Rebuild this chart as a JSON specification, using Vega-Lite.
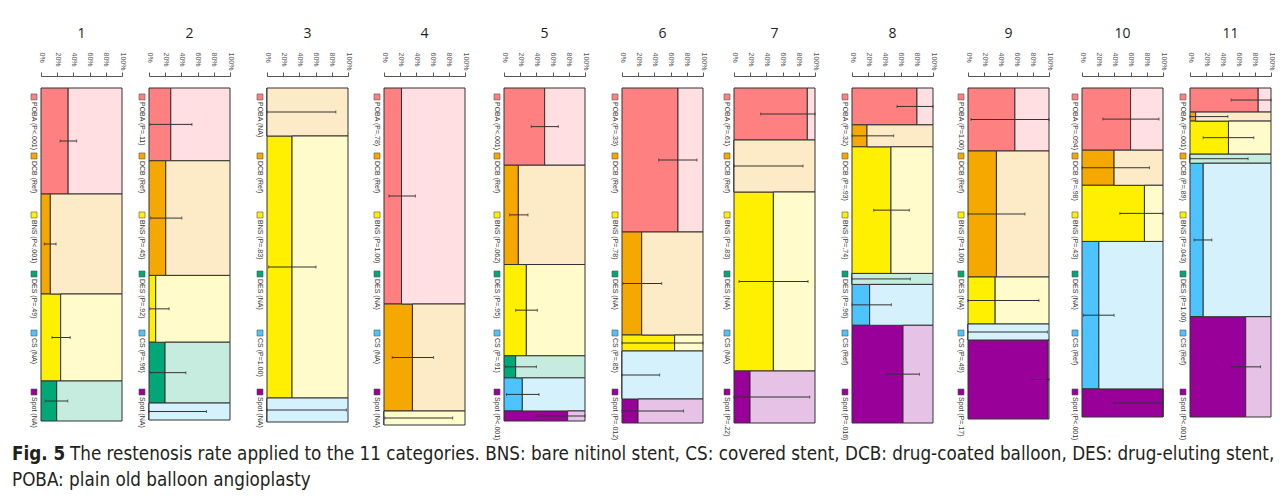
{
  "$schema": "https://vega.github.io/schema/vega-lite/v6.json",
  "padding": {"left": 12, "top": 27, "right": 0, "bottom": 0},
  "background": "white",
  "config": {
    "view": {"stroke": null},
    "title": {"fontSize": 14, "fontWeight": "normal", "font": "Open Sans", "color": "#231f20", "offset": 11},
    "rect": {"stroke": "#333", "strokeWidth": 1},
    "rule": {"stroke": "#333", "strokeWidth": 1},
    "tick": {"color": "#333", "size": 3, "thickness": 1},
    "axisX": {"offset": 12, "labelAngle": 90, "labelAlign": "left", "labelBaseline": "middle", "labelPadding": 20, "labelFontSize": 7, "labelFont": "Liberation Sans", "labelColor": "#555", "tickSize": 4, "tickColor": "#555", "domainColor": "#555", "grid": false, "labelOverlap": false, "labelFlush": false, "labelBound": false, "tickCount": 6}
  },
  "datasets": {
    "bands": [
      {"panel": 1, "trt": "POBA", "ord": 1, "n": 106, "rate": 0.335, "lo": 0.236, "hi": 0.44},
      {"panel": 1, "trt": "DCB", "ord": 2, "n": 100, "rate": 0.115, "lo": 0.04, "hi": 0.186},
      {"panel": 1, "trt": "BNS", "ord": 3, "n": 87, "rate": 0.243, "lo": 0.136, "hi": 0.36},
      {"panel": 1, "trt": "DES", "ord": 4, "n": 40, "rate": 0.194, "lo": 0.053, "hi": 0.33},
      {"panel": 2, "trt": "POBA", "ord": 1, "n": 73, "rate": 0.269, "lo": 0.01, "hi": 0.53},
      {"panel": 2, "trt": "DCB", "ord": 2, "n": 115, "rate": 0.207, "lo": 0.02, "hi": 0.405},
      {"panel": 2, "trt": "BNS", "ord": 3, "n": 67, "rate": 0.083, "lo": 0.01, "hi": 0.248},
      {"panel": 2, "trt": "DES", "ord": 4, "n": 61, "rate": 0.198, "lo": 0.01, "hi": 0.455},
      {"panel": 2, "trt": "CS", "ord": 5, "n": 17, "rate": 0, "lo": 0, "hi": 0.71},
      {"panel": 3, "trt": "DCB", "ord": 2, "n": 48, "rate": 0, "lo": 0, "hi": 0.85},
      {"panel": 3, "trt": "BNS", "ord": 3, "n": 262, "rate": 0.309, "lo": 0.02, "hi": 0.605},
      {"panel": 3, "trt": "CS", "ord": 5, "n": 24, "rate": 0, "lo": 0, "hi": 0.98},
      {"panel": 4, "trt": "POBA", "ord": 1, "n": 216, "rate": 0.216, "lo": 0.061, "hi": 0.388},
      {"panel": 4, "trt": "DCB", "ord": 2, "n": 107, "rate": 0.351, "lo": 0.102, "hi": 0.612},
      {"panel": 4, "trt": "BNS", "ord": 3, "n": 14, "rate": 0, "lo": 0.01, "hi": 0.848},
      {"panel": 5, "trt": "POBA", "ord": 1, "n": 77, "rate": 0.502, "lo": 0.337, "hi": 0.67},
      {"panel": 5, "trt": "DCB", "ord": 2, "n": 99, "rate": 0.177, "lo": 0.07, "hi": 0.296},
      {"panel": 5, "trt": "BNS", "ord": 3, "n": 91, "rate": 0.276, "lo": 0.144, "hi": 0.412},
      {"panel": 5, "trt": "DES", "ord": 4, "n": 22, "rate": 0.144, "lo": 0.02, "hi": 0.4},
      {"panel": 5, "trt": "CS", "ord": 5, "n": 33, "rate": 0.226, "lo": 0.03, "hi": 0.432},
      {"panel": 5, "trt": "Spot", "ord": 6, "n": 10, "rate": 0.786, "lo": 0.42, "hi": 1},
      {"panel": 6, "trt": "POBA", "ord": 1, "n": 144, "rate": 0.691, "lo": 0.453, "hi": 0.926},
      {"panel": 6, "trt": "DCB", "ord": 2, "n": 103, "rate": 0.243, "lo": 0.01, "hi": 0.49},
      {"panel": 6, "trt": "BNS", "ord": 3, "n": 16, "rate": 0.65, "lo": 0, "hi": 1},
      {"panel": 6, "trt": "CS", "ord": 5, "n": 48, "rate": 0, "lo": 0, "hi": 0.465},
      {"panel": 6, "trt": "Spot", "ord": 6, "n": 24, "rate": 0.198, "lo": 0, "hi": 0.76},
      {"panel": 7, "trt": "POBA", "ord": 1, "n": 52, "rate": 0.905, "lo": 0.33, "hi": 1},
      {"panel": 7, "trt": "DCB", "ord": 2, "n": 52, "rate": 0, "lo": 0, "hi": 0.852},
      {"panel": 7, "trt": "BNS", "ord": 3, "n": 179, "rate": 0.486, "lo": 0.062, "hi": 0.914},
      {"panel": 7, "trt": "Spot", "ord": 6, "n": 52, "rate": 0.198, "lo": 0, "hi": 0.935},
      {"panel": 8, "trt": "POBA", "ord": 1, "n": 37, "rate": 0.802, "lo": 0.556, "hi": 1},
      {"panel": 8, "trt": "DCB", "ord": 2, "n": 22, "rate": 0.185, "lo": 0, "hi": 0.515},
      {"panel": 8, "trt": "BNS", "ord": 3, "n": 127, "rate": 0.481, "lo": 0.268, "hi": 0.708},
      {"panel": 8, "trt": "DES", "ord": 4, "n": 11, "rate": 0, "lo": 0, "hi": 0.72},
      {"panel": 8, "trt": "CS", "ord": 5, "n": 41, "rate": 0.218, "lo": 0, "hi": 0.486},
      {"panel": 8, "trt": "Spot", "ord": 6, "n": 98, "rate": 0.63, "lo": 0.424, "hi": 0.832},
      {"panel": 9, "trt": "POBA", "ord": 1, "n": 63, "rate": 0.579, "lo": 0.037, "hi": 1},
      {"panel": 9, "trt": "DCB", "ord": 2, "n": 126, "rate": 0.351, "lo": 0, "hi": 0.703},
      {"panel": 9, "trt": "BNS", "ord": 3, "n": 47, "rate": 0.335, "lo": 0, "hi": 0.876},
      {"panel": 9, "trt": "CS", "ord": 5, "n": 16, "rate": 0, "lo": 0, "hi": 0.98},
      {"panel": 9, "trt": "Spot", "ord": 6, "n": 79, "rate": 0.988, "lo": 0.79, "hi": 1},
      {"panel": 10, "trt": "POBA", "ord": 1, "n": 62, "rate": 0.6, "lo": 0.258, "hi": 0.95},
      {"panel": 10, "trt": "DCB", "ord": 2, "n": 35, "rate": 0.396, "lo": 0, "hi": 0.833},
      {"panel": 10, "trt": "BNS", "ord": 3, "n": 56, "rate": 0.771, "lo": 0.467, "hi": 1},
      {"panel": 10, "trt": "CS", "ord": 5, "n": 147, "rate": 0.208, "lo": 0.02, "hi": 0.396},
      {"panel": 10, "trt": "Spot", "ord": 6, "n": 28, "rate": 1, "lo": 0.392, "hi": 1},
      {"panel": 11, "trt": "POBA", "ord": 1, "n": 24, "rate": 0.842, "lo": 0.508, "hi": 1},
      {"panel": 11, "trt": "DCB", "ord": 2, "n": 9, "rate": 0.07, "lo": 0, "hi": 0.467},
      {"panel": 11, "trt": "BNS", "ord": 3, "n": 33, "rate": 0.475, "lo": 0.163, "hi": 0.788},
      {"panel": 11, "trt": "DES", "ord": 4, "n": 9, "rate": 0, "lo": 0, "hi": 0.717},
      {"panel": 11, "trt": "CS", "ord": 5, "n": 153, "rate": 0.163, "lo": 0.05, "hi": 0.27},
      {"panel": 11, "trt": "Spot", "ord": 6, "n": 100, "rate": 0.688, "lo": 0.517, "hi": 0.871}
    ],
    "leg": [
      {"panel": 1, "trt": "POBA", "ord": 1, "label": "POBA (P<.001)"},
      {"panel": 1, "trt": "DCB", "ord": 2, "label": "DCB (Ref)"},
      {"panel": 1, "trt": "BNS", "ord": 3, "label": "BNS (P<.001)"},
      {"panel": 1, "trt": "DES", "ord": 4, "label": "DES (P=.49)"},
      {"panel": 1, "trt": "CS", "ord": 5, "label": "CS (NA)"},
      {"panel": 1, "trt": "Spot", "ord": 6, "label": "Spot (NA)"},
      {"panel": 2, "trt": "POBA", "ord": 1, "label": "POBA (P=.11)"},
      {"panel": 2, "trt": "DCB", "ord": 2, "label": "DCB (Ref)"},
      {"panel": 2, "trt": "BNS", "ord": 3, "label": "BNS (P=.45)"},
      {"panel": 2, "trt": "DES", "ord": 4, "label": "DES (P=.92)"},
      {"panel": 2, "trt": "CS", "ord": 5, "label": "CS (P=.96)"},
      {"panel": 2, "trt": "Spot", "ord": 6, "label": "Spot (NA)"},
      {"panel": 3, "trt": "POBA", "ord": 1, "label": "POBA (NA)"},
      {"panel": 3, "trt": "DCB", "ord": 2, "label": "DCB (Ref)"},
      {"panel": 3, "trt": "BNS", "ord": 3, "label": "BNS (P=.83)"},
      {"panel": 3, "trt": "DES", "ord": 4, "label": "DES (NA)"},
      {"panel": 3, "trt": "CS", "ord": 5, "label": "CS (P=1.00)"},
      {"panel": 3, "trt": "Spot", "ord": 6, "label": "Spot (NA)"},
      {"panel": 4, "trt": "POBA", "ord": 1, "label": "POBA (P=.78)"},
      {"panel": 4, "trt": "DCB", "ord": 2, "label": "DCB (Ref)"},
      {"panel": 4, "trt": "BNS", "ord": 3, "label": "BNS (P=1.00)"},
      {"panel": 4, "trt": "DES", "ord": 4, "label": "DES (NA)"},
      {"panel": 4, "trt": "CS", "ord": 5, "label": "CS (NA)"},
      {"panel": 4, "trt": "Spot", "ord": 6, "label": "Spot (NA)"},
      {"panel": 5, "trt": "POBA", "ord": 1, "label": "POBA (P<.001)"},
      {"panel": 5, "trt": "DCB", "ord": 2, "label": "DCB (Ref)"},
      {"panel": 5, "trt": "BNS", "ord": 3, "label": "BNS (P=.062)"},
      {"panel": 5, "trt": "DES", "ord": 4, "label": "DES (P=.95)"},
      {"panel": 5, "trt": "CS", "ord": 5, "label": "CS (P=.91)"},
      {"panel": 5, "trt": "Spot", "ord": 6, "label": "Spot (P<.001)"},
      {"panel": 6, "trt": "POBA", "ord": 1, "label": "POBA (P=.33)"},
      {"panel": 6, "trt": "DCB", "ord": 2, "label": "DCB (Ref)"},
      {"panel": 6, "trt": "BNS", "ord": 3, "label": "BNS (P=.78)"},
      {"panel": 6, "trt": "DES", "ord": 4, "label": "DES (NA)"},
      {"panel": 6, "trt": "CS", "ord": 5, "label": "CS (P=.85)"},
      {"panel": 6, "trt": "Spot", "ord": 6, "label": "Spot (P=.012)"},
      {"panel": 7, "trt": "POBA", "ord": 1, "label": "POBA (P=.61)"},
      {"panel": 7, "trt": "DCB", "ord": 2, "label": "DCB (Ref)"},
      {"panel": 7, "trt": "BNS", "ord": 3, "label": "BNS (P=.83)"},
      {"panel": 7, "trt": "DES", "ord": 4, "label": "DES (NA)"},
      {"panel": 7, "trt": "CS", "ord": 5, "label": "CS (NA)"},
      {"panel": 7, "trt": "Spot", "ord": 6, "label": "Spot (P=.22)"},
      {"panel": 8, "trt": "POBA", "ord": 1, "label": "POBA (P=.32)"},
      {"panel": 8, "trt": "DCB", "ord": 2, "label": "DCB (P=.93)"},
      {"panel": 8, "trt": "BNS", "ord": 3, "label": "BNS (P=.74)"},
      {"panel": 8, "trt": "DES", "ord": 4, "label": "DES (P=.96)"},
      {"panel": 8, "trt": "CS", "ord": 5, "label": "CS (Ref)"},
      {"panel": 8, "trt": "Spot", "ord": 6, "label": "Spot (P=.016)"},
      {"panel": 9, "trt": "POBA", "ord": 1, "label": "POBA (P=1.00)"},
      {"panel": 9, "trt": "DCB", "ord": 2, "label": "DCB (Ref)"},
      {"panel": 9, "trt": "BNS", "ord": 3, "label": "BNS (P=1.00)"},
      {"panel": 9, "trt": "DES", "ord": 4, "label": "DES (NA)"},
      {"panel": 9, "trt": "CS", "ord": 5, "label": "CS (P=.49)"},
      {"panel": 9, "trt": "Spot", "ord": 6, "label": "Spot (P=.17)"},
      {"panel": 10, "trt": "POBA", "ord": 1, "label": "POBA (P=.094)"},
      {"panel": 10, "trt": "DCB", "ord": 2, "label": "DCB (P=.98)"},
      {"panel": 10, "trt": "BNS", "ord": 3, "label": "BNS (P=.43)"},
      {"panel": 10, "trt": "DES", "ord": 4, "label": "DES (NA)"},
      {"panel": 10, "trt": "CS", "ord": 5, "label": "CS (Ref)"},
      {"panel": 10, "trt": "Spot", "ord": 6, "label": "Spot (P<.001)"},
      {"panel": 11, "trt": "POBA", "ord": 1, "label": "POBA (P=.001)"},
      {"panel": 11, "trt": "DCB", "ord": 2, "label": "DCB (P=.89)"},
      {"panel": 11, "trt": "BNS", "ord": 3, "label": "BNS (P=.043)"},
      {"panel": 11, "trt": "DES", "ord": 4, "label": "DES (P=1.00)"},
      {"panel": 11, "trt": "CS", "ord": 5, "label": "CS (Ref)"},
      {"panel": 11, "trt": "Spot", "ord": 6, "label": "Spot (P<.001)"}
    ],
    "cap": [
      {"line": 1, "part": "head", "txt": "Fig. 5"},
      {"line": 1, "part": "body1", "txt": "The restenosis rate applied to the 11 categories. BNS: bare nitinol stent, CS: covered stent, DCB: drug-coated balloon, DES: drug-eluting stent,"},
      {"line": 2, "part": "body2", "txt": "POBA: plain old balloon angioplasty"}
    ]
  },
  "vconcat": [
    {
      "bounds": "flush",
      "spacing": 7,
      "hconcat": [
        {"width": 22, "height": 334, "data": {"name": "leg"}, "transform": [{"filter": "datum.panel == 1"}],
         "encoding": {"x": {"value": "width"}, "y": {"field": "ord", "type": "ordinal", "scale": {"type": "point", "padding": 0.33, "align": 0.23}, "axis": null}},
         "layer": [
          {"mark": {"type": "point", "shape": "square", "filled": true, "size": 36, "stroke": "#555", "strokeWidth": 0.6, "opacity": 1}, "encoding": {"fill": {"field": "trt", "type": "nominal", "scale": {"domain": ["POBA", "DCB", "BNS", "DES", "CS", "Spot"], "range": ["#ff8080", "#f5a800", "#ffef00", "#00a878", "#4dc3ff", "#990099"]}, "legend": null}}},
          {"mark": {"type": "text", "angle": 90, "align": "left", "baseline": "middle", "dx": 5, "fontSize": 7, "font": "Liberation Sans", "fill": "#333"}, "encoding": {"text": {"field": "label", "type": "nominal"}}}
         ]},
        {"width": 81, "height": 333, "title": "1", "data": {"name": "bands"},
         "transform": [{"filter": "datum.panel == 1"}, {"stack": "n", "groupby": [], "sort": [{"field": "ord", "order": "ascending"}], "as": ["y0", "y1"], "offset": "normalize"}],
         "layer": [
          {"mark": "rect", "encoding": {"x": {"field": "rate", "type": "quantitative", "scale": {"domain": [0, 1], "nice": false, "zero": false}, "axis": {"orient": "top", "values": [0, 0.2, 0.4, 0.6, 0.8, 1], "tickCount": 6, "format": ".0%", "title": null, "labelOverlap": false}}, "x2": {"value": 0}, "y": {"field": "y0", "type": "quantitative", "scale": {"domain": [0, 1], "reverse": true, "nice": false, "zero": false}, "axis": null}, "y2": {"field": "y1"}, "fill": {"field": "trt", "type": "nominal", "scale": {"domain": ["POBA", "DCB", "BNS", "DES", "CS", "Spot"], "range": ["#ff8080", "#f5a800", "#ffef00", "#00a878", "#4dc3ff", "#990099"]}, "legend": null}}},
          {"mark": "rect", "encoding": {"x": {"field": "rate", "type": "quantitative"}, "x2": {"value": "width"}, "y": {"field": "y0", "type": "quantitative"}, "y2": {"field": "y1"}, "color": {"field": "trt", "type": "nominal", "scale": {"domain": ["POBA", "DCB", "BNS", "DES", "CS", "Spot"], "range": ["#ffdfe2", "#fdebc8", "#fffbcb", "#c6ece0", "#d5f1fc", "#e6c3e6"]}, "legend": null}}},
          {"transform": [{"fold": ["y0", "y1"], "as": ["k", "v"]}, {"aggregate": [{"op": "mean", "field": "v", "as": "mid"}], "groupby": ["trt", "lo", "hi"]}], "mark": "rule", "encoding": {"x": {"field": "lo", "type": "quantitative"}, "x2": {"field": "hi"}, "y": {"field": "mid", "type": "quantitative"}}},
          {"transform": [{"fold": ["y0", "y1"], "as": ["k", "v"]}, {"aggregate": [{"op": "mean", "field": "v", "as": "mid"}], "groupby": ["trt", "lo", "hi"]}, {"fold": ["lo", "hi"], "as": ["e", "ev"]}], "mark": {"type": "tick", "orient": "vertical"}, "encoding": {"x": {"field": "ev", "type": "quantitative"}, "y": {"field": "mid", "type": "quantitative"}}}
         ]},
        {"width": 13, "height": 334, "data": {"name": "leg"}, "transform": [{"filter": "datum.panel == 2"}],
         "encoding": {"x": {"value": "width"}, "y": {"field": "ord", "type": "ordinal", "scale": {"type": "point", "padding": 0.33, "align": 0.23}, "axis": null}},
         "layer": [
          {"mark": {"type": "point", "shape": "square", "filled": true, "size": 36, "stroke": "#555", "strokeWidth": 0.6, "opacity": 1}, "encoding": {"fill": {"field": "trt", "type": "nominal", "scale": {"domain": ["POBA", "DCB", "BNS", "DES", "CS", "Spot"], "range": ["#ff8080", "#f5a800", "#ffef00", "#00a878", "#4dc3ff", "#990099"]}, "legend": null}}},
          {"mark": {"type": "text", "angle": 90, "align": "left", "baseline": "middle", "dx": 5, "fontSize": 7, "font": "Liberation Sans", "fill": "#333"}, "encoding": {"text": {"field": "label", "type": "nominal"}}}
         ]},
        {"width": 81, "height": 332, "title": "2", "data": {"name": "bands"},
         "transform": [{"filter": "datum.panel == 2"}, {"stack": "n", "groupby": [], "sort": [{"field": "ord", "order": "ascending"}], "as": ["y0", "y1"], "offset": "normalize"}],
         "layer": [
          {"mark": "rect", "encoding": {"x": {"field": "rate", "type": "quantitative", "scale": {"domain": [0, 1], "nice": false, "zero": false}, "axis": {"orient": "top", "values": [0, 0.2, 0.4, 0.6, 0.8, 1], "tickCount": 6, "format": ".0%", "title": null, "labelOverlap": false}}, "x2": {"value": 0}, "y": {"field": "y0", "type": "quantitative", "scale": {"domain": [0, 1], "reverse": true, "nice": false, "zero": false}, "axis": null}, "y2": {"field": "y1"}, "fill": {"field": "trt", "type": "nominal", "scale": {"domain": ["POBA", "DCB", "BNS", "DES", "CS", "Spot"], "range": ["#ff8080", "#f5a800", "#ffef00", "#00a878", "#4dc3ff", "#990099"]}, "legend": null}}},
          {"mark": "rect", "encoding": {"x": {"field": "rate", "type": "quantitative"}, "x2": {"value": "width"}, "y": {"field": "y0", "type": "quantitative"}, "y2": {"field": "y1"}, "color": {"field": "trt", "type": "nominal", "scale": {"domain": ["POBA", "DCB", "BNS", "DES", "CS", "Spot"], "range": ["#ffdfe2", "#fdebc8", "#fffbcb", "#c6ece0", "#d5f1fc", "#e6c3e6"]}, "legend": null}}},
          {"transform": [{"fold": ["y0", "y1"], "as": ["k", "v"]}, {"aggregate": [{"op": "mean", "field": "v", "as": "mid"}], "groupby": ["trt", "lo", "hi"]}], "mark": "rule", "encoding": {"x": {"field": "lo", "type": "quantitative"}, "x2": {"field": "hi"}, "y": {"field": "mid", "type": "quantitative"}}},
          {"transform": [{"fold": ["y0", "y1"], "as": ["k", "v"]}, {"aggregate": [{"op": "mean", "field": "v", "as": "mid"}], "groupby": ["trt", "lo", "hi"]}, {"fold": ["lo", "hi"], "as": ["e", "ev"]}], "mark": {"type": "tick", "orient": "vertical"}, "encoding": {"x": {"field": "ev", "type": "quantitative"}, "y": {"field": "mid", "type": "quantitative"}}}
         ]},
        {"width": 23, "height": 334, "data": {"name": "leg"}, "transform": [{"filter": "datum.panel == 3"}],
         "encoding": {"x": {"value": "width"}, "y": {"field": "ord", "type": "ordinal", "scale": {"type": "point", "padding": 0.33, "align": 0.23}, "axis": null}},
         "layer": [
          {"mark": {"type": "point", "shape": "square", "filled": true, "size": 36, "stroke": "#555", "strokeWidth": 0.6, "opacity": 1}, "encoding": {"fill": {"field": "trt", "type": "nominal", "scale": {"domain": ["POBA", "DCB", "BNS", "DES", "CS", "Spot"], "range": ["#ff8080", "#f5a800", "#ffef00", "#00a878", "#4dc3ff", "#990099"]}, "legend": null}}},
          {"mark": {"type": "text", "angle": 90, "align": "left", "baseline": "middle", "dx": 5, "fontSize": 7, "font": "Liberation Sans", "fill": "#333"}, "encoding": {"text": {"field": "label", "type": "nominal"}}}
         ]},
        {"width": 81, "height": 334, "title": "3", "data": {"name": "bands"},
         "transform": [{"filter": "datum.panel == 3"}, {"stack": "n", "groupby": [], "sort": [{"field": "ord", "order": "ascending"}], "as": ["y0", "y1"], "offset": "normalize"}],
         "layer": [
          {"mark": "rect", "encoding": {"x": {"field": "rate", "type": "quantitative", "scale": {"domain": [0, 1], "nice": false, "zero": false}, "axis": {"orient": "top", "values": [0, 0.2, 0.4, 0.6, 0.8, 1], "tickCount": 6, "format": ".0%", "title": null, "labelOverlap": false}}, "x2": {"value": 0}, "y": {"field": "y0", "type": "quantitative", "scale": {"domain": [0, 1], "reverse": true, "nice": false, "zero": false}, "axis": null}, "y2": {"field": "y1"}, "fill": {"field": "trt", "type": "nominal", "scale": {"domain": ["POBA", "DCB", "BNS", "DES", "CS", "Spot"], "range": ["#ff8080", "#f5a800", "#ffef00", "#00a878", "#4dc3ff", "#990099"]}, "legend": null}}},
          {"mark": "rect", "encoding": {"x": {"field": "rate", "type": "quantitative"}, "x2": {"value": "width"}, "y": {"field": "y0", "type": "quantitative"}, "y2": {"field": "y1"}, "color": {"field": "trt", "type": "nominal", "scale": {"domain": ["POBA", "DCB", "BNS", "DES", "CS", "Spot"], "range": ["#ffdfe2", "#fdebc8", "#fffbcb", "#c6ece0", "#d5f1fc", "#e6c3e6"]}, "legend": null}}},
          {"transform": [{"fold": ["y0", "y1"], "as": ["k", "v"]}, {"aggregate": [{"op": "mean", "field": "v", "as": "mid"}], "groupby": ["trt", "lo", "hi"]}], "mark": "rule", "encoding": {"x": {"field": "lo", "type": "quantitative"}, "x2": {"field": "hi"}, "y": {"field": "mid", "type": "quantitative"}}},
          {"transform": [{"fold": ["y0", "y1"], "as": ["k", "v"]}, {"aggregate": [{"op": "mean", "field": "v", "as": "mid"}], "groupby": ["trt", "lo", "hi"]}, {"fold": ["lo", "hi"], "as": ["e", "ev"]}], "mark": {"type": "tick", "orient": "vertical"}, "encoding": {"x": {"field": "ev", "type": "quantitative"}, "y": {"field": "mid", "type": "quantitative"}}}
         ]},
        {"width": 22, "height": 334, "data": {"name": "leg"}, "transform": [{"filter": "datum.panel == 4"}],
         "encoding": {"x": {"value": "width"}, "y": {"field": "ord", "type": "ordinal", "scale": {"type": "point", "padding": 0.33, "align": 0.23}, "axis": null}},
         "layer": [
          {"mark": {"type": "point", "shape": "square", "filled": true, "size": 36, "stroke": "#555", "strokeWidth": 0.6, "opacity": 1}, "encoding": {"fill": {"field": "trt", "type": "nominal", "scale": {"domain": ["POBA", "DCB", "BNS", "DES", "CS", "Spot"], "range": ["#ff8080", "#f5a800", "#ffef00", "#00a878", "#4dc3ff", "#990099"]}, "legend": null}}},
          {"mark": {"type": "text", "angle": 90, "align": "left", "baseline": "middle", "dx": 5, "fontSize": 7, "font": "Liberation Sans", "fill": "#333"}, "encoding": {"text": {"field": "label", "type": "nominal"}}}
         ]},
        {"width": 81, "height": 337, "title": "4", "data": {"name": "bands"},
         "transform": [{"filter": "datum.panel == 4"}, {"stack": "n", "groupby": [], "sort": [{"field": "ord", "order": "ascending"}], "as": ["y0", "y1"], "offset": "normalize"}],
         "layer": [
          {"mark": "rect", "encoding": {"x": {"field": "rate", "type": "quantitative", "scale": {"domain": [0, 1], "nice": false, "zero": false}, "axis": {"orient": "top", "values": [0, 0.2, 0.4, 0.6, 0.8, 1], "tickCount": 6, "format": ".0%", "title": null, "labelOverlap": false}}, "x2": {"value": 0}, "y": {"field": "y0", "type": "quantitative", "scale": {"domain": [0, 1], "reverse": true, "nice": false, "zero": false}, "axis": null}, "y2": {"field": "y1"}, "fill": {"field": "trt", "type": "nominal", "scale": {"domain": ["POBA", "DCB", "BNS", "DES", "CS", "Spot"], "range": ["#ff8080", "#f5a800", "#ffef00", "#00a878", "#4dc3ff", "#990099"]}, "legend": null}}},
          {"mark": "rect", "encoding": {"x": {"field": "rate", "type": "quantitative"}, "x2": {"value": "width"}, "y": {"field": "y0", "type": "quantitative"}, "y2": {"field": "y1"}, "color": {"field": "trt", "type": "nominal", "scale": {"domain": ["POBA", "DCB", "BNS", "DES", "CS", "Spot"], "range": ["#ffdfe2", "#fdebc8", "#fffbcb", "#c6ece0", "#d5f1fc", "#e6c3e6"]}, "legend": null}}},
          {"transform": [{"fold": ["y0", "y1"], "as": ["k", "v"]}, {"aggregate": [{"op": "mean", "field": "v", "as": "mid"}], "groupby": ["trt", "lo", "hi"]}], "mark": "rule", "encoding": {"x": {"field": "lo", "type": "quantitative"}, "x2": {"field": "hi"}, "y": {"field": "mid", "type": "quantitative"}}},
          {"transform": [{"fold": ["y0", "y1"], "as": ["k", "v"]}, {"aggregate": [{"op": "mean", "field": "v", "as": "mid"}], "groupby": ["trt", "lo", "hi"]}, {"fold": ["lo", "hi"], "as": ["e", "ev"]}], "mark": {"type": "tick", "orient": "vertical"}, "encoding": {"x": {"field": "ev", "type": "quantitative"}, "y": {"field": "mid", "type": "quantitative"}}}
         ]},
        {"width": 25, "height": 334, "data": {"name": "leg"}, "transform": [{"filter": "datum.panel == 5"}],
         "encoding": {"x": {"value": "width"}, "y": {"field": "ord", "type": "ordinal", "scale": {"type": "point", "padding": 0.33, "align": 0.23}, "axis": null}},
         "layer": [
          {"mark": {"type": "point", "shape": "square", "filled": true, "size": 36, "stroke": "#555", "strokeWidth": 0.6, "opacity": 1}, "encoding": {"fill": {"field": "trt", "type": "nominal", "scale": {"domain": ["POBA", "DCB", "BNS", "DES", "CS", "Spot"], "range": ["#ff8080", "#f5a800", "#ffef00", "#00a878", "#4dc3ff", "#990099"]}, "legend": null}}},
          {"mark": {"type": "text", "angle": 90, "align": "left", "baseline": "middle", "dx": 5, "fontSize": 7, "font": "Liberation Sans", "fill": "#333"}, "encoding": {"text": {"field": "label", "type": "nominal"}}}
         ]},
        {"width": 81, "height": 333, "title": "5", "data": {"name": "bands"},
         "transform": [{"filter": "datum.panel == 5"}, {"stack": "n", "groupby": [], "sort": [{"field": "ord", "order": "ascending"}], "as": ["y0", "y1"], "offset": "normalize"}],
         "layer": [
          {"mark": "rect", "encoding": {"x": {"field": "rate", "type": "quantitative", "scale": {"domain": [0, 1], "nice": false, "zero": false}, "axis": {"orient": "top", "values": [0, 0.2, 0.4, 0.6, 0.8, 1], "tickCount": 6, "format": ".0%", "title": null, "labelOverlap": false}}, "x2": {"value": 0}, "y": {"field": "y0", "type": "quantitative", "scale": {"domain": [0, 1], "reverse": true, "nice": false, "zero": false}, "axis": null}, "y2": {"field": "y1"}, "fill": {"field": "trt", "type": "nominal", "scale": {"domain": ["POBA", "DCB", "BNS", "DES", "CS", "Spot"], "range": ["#ff8080", "#f5a800", "#ffef00", "#00a878", "#4dc3ff", "#990099"]}, "legend": null}}},
          {"mark": "rect", "encoding": {"x": {"field": "rate", "type": "quantitative"}, "x2": {"value": "width"}, "y": {"field": "y0", "type": "quantitative"}, "y2": {"field": "y1"}, "color": {"field": "trt", "type": "nominal", "scale": {"domain": ["POBA", "DCB", "BNS", "DES", "CS", "Spot"], "range": ["#ffdfe2", "#fdebc8", "#fffbcb", "#c6ece0", "#d5f1fc", "#e6c3e6"]}, "legend": null}}},
          {"transform": [{"fold": ["y0", "y1"], "as": ["k", "v"]}, {"aggregate": [{"op": "mean", "field": "v", "as": "mid"}], "groupby": ["trt", "lo", "hi"]}], "mark": "rule", "encoding": {"x": {"field": "lo", "type": "quantitative"}, "x2": {"field": "hi"}, "y": {"field": "mid", "type": "quantitative"}}},
          {"transform": [{"fold": ["y0", "y1"], "as": ["k", "v"]}, {"aggregate": [{"op": "mean", "field": "v", "as": "mid"}], "groupby": ["trt", "lo", "hi"]}, {"fold": ["lo", "hi"], "as": ["e", "ev"]}], "mark": {"type": "tick", "orient": "vertical"}, "encoding": {"x": {"field": "ev", "type": "quantitative"}, "y": {"field": "mid", "type": "quantitative"}}}
         ]},
        {"width": 23, "height": 334, "data": {"name": "leg"}, "transform": [{"filter": "datum.panel == 6"}],
         "encoding": {"x": {"value": "width"}, "y": {"field": "ord", "type": "ordinal", "scale": {"type": "point", "padding": 0.33, "align": 0.23}, "axis": null}},
         "layer": [
          {"mark": {"type": "point", "shape": "square", "filled": true, "size": 36, "stroke": "#555", "strokeWidth": 0.6, "opacity": 1}, "encoding": {"fill": {"field": "trt", "type": "nominal", "scale": {"domain": ["POBA", "DCB", "BNS", "DES", "CS", "Spot"], "range": ["#ff8080", "#f5a800", "#ffef00", "#00a878", "#4dc3ff", "#990099"]}, "legend": null}}},
          {"mark": {"type": "text", "angle": 90, "align": "left", "baseline": "middle", "dx": 5, "fontSize": 7, "font": "Liberation Sans", "fill": "#333"}, "encoding": {"text": {"field": "label", "type": "nominal"}}}
         ]},
        {"width": 81, "height": 335, "title": "6", "data": {"name": "bands"},
         "transform": [{"filter": "datum.panel == 6"}, {"stack": "n", "groupby": [], "sort": [{"field": "ord", "order": "ascending"}], "as": ["y0", "y1"], "offset": "normalize"}],
         "layer": [
          {"mark": "rect", "encoding": {"x": {"field": "rate", "type": "quantitative", "scale": {"domain": [0, 1], "nice": false, "zero": false}, "axis": {"orient": "top", "values": [0, 0.2, 0.4, 0.6, 0.8, 1], "tickCount": 6, "format": ".0%", "title": null, "labelOverlap": false}}, "x2": {"value": 0}, "y": {"field": "y0", "type": "quantitative", "scale": {"domain": [0, 1], "reverse": true, "nice": false, "zero": false}, "axis": null}, "y2": {"field": "y1"}, "fill": {"field": "trt", "type": "nominal", "scale": {"domain": ["POBA", "DCB", "BNS", "DES", "CS", "Spot"], "range": ["#ff8080", "#f5a800", "#ffef00", "#00a878", "#4dc3ff", "#990099"]}, "legend": null}}},
          {"mark": "rect", "encoding": {"x": {"field": "rate", "type": "quantitative"}, "x2": {"value": "width"}, "y": {"field": "y0", "type": "quantitative"}, "y2": {"field": "y1"}, "color": {"field": "trt", "type": "nominal", "scale": {"domain": ["POBA", "DCB", "BNS", "DES", "CS", "Spot"], "range": ["#ffdfe2", "#fdebc8", "#fffbcb", "#c6ece0", "#d5f1fc", "#e6c3e6"]}, "legend": null}}},
          {"transform": [{"fold": ["y0", "y1"], "as": ["k", "v"]}, {"aggregate": [{"op": "mean", "field": "v", "as": "mid"}], "groupby": ["trt", "lo", "hi"]}], "mark": "rule", "encoding": {"x": {"field": "lo", "type": "quantitative"}, "x2": {"field": "hi"}, "y": {"field": "mid", "type": "quantitative"}}},
          {"transform": [{"fold": ["y0", "y1"], "as": ["k", "v"]}, {"aggregate": [{"op": "mean", "field": "v", "as": "mid"}], "groupby": ["trt", "lo", "hi"]}, {"fold": ["lo", "hi"], "as": ["e", "ev"]}], "mark": {"type": "tick", "orient": "vertical"}, "encoding": {"x": {"field": "ev", "type": "quantitative"}, "y": {"field": "mid", "type": "quantitative"}}}
         ]},
        {"width": 17, "height": 334, "data": {"name": "leg"}, "transform": [{"filter": "datum.panel == 7"}],
         "encoding": {"x": {"value": "width"}, "y": {"field": "ord", "type": "ordinal", "scale": {"type": "point", "padding": 0.33, "align": 0.23}, "axis": null}},
         "layer": [
          {"mark": {"type": "point", "shape": "square", "filled": true, "size": 36, "stroke": "#555", "strokeWidth": 0.6, "opacity": 1}, "encoding": {"fill": {"field": "trt", "type": "nominal", "scale": {"domain": ["POBA", "DCB", "BNS", "DES", "CS", "Spot"], "range": ["#ff8080", "#f5a800", "#ffef00", "#00a878", "#4dc3ff", "#990099"]}, "legend": null}}},
          {"mark": {"type": "text", "angle": 90, "align": "left", "baseline": "middle", "dx": 5, "fontSize": 7, "font": "Liberation Sans", "fill": "#333"}, "encoding": {"text": {"field": "label", "type": "nominal"}}}
         ]},
        {"width": 81, "height": 335, "title": "7", "data": {"name": "bands"},
         "transform": [{"filter": "datum.panel == 7"}, {"stack": "n", "groupby": [], "sort": [{"field": "ord", "order": "ascending"}], "as": ["y0", "y1"], "offset": "normalize"}],
         "layer": [
          {"mark": "rect", "encoding": {"x": {"field": "rate", "type": "quantitative", "scale": {"domain": [0, 1], "nice": false, "zero": false}, "axis": {"orient": "top", "values": [0, 0.2, 0.4, 0.6, 0.8, 1], "tickCount": 6, "format": ".0%", "title": null, "labelOverlap": false}}, "x2": {"value": 0}, "y": {"field": "y0", "type": "quantitative", "scale": {"domain": [0, 1], "reverse": true, "nice": false, "zero": false}, "axis": null}, "y2": {"field": "y1"}, "fill": {"field": "trt", "type": "nominal", "scale": {"domain": ["POBA", "DCB", "BNS", "DES", "CS", "Spot"], "range": ["#ff8080", "#f5a800", "#ffef00", "#00a878", "#4dc3ff", "#990099"]}, "legend": null}}},
          {"mark": "rect", "encoding": {"x": {"field": "rate", "type": "quantitative"}, "x2": {"value": "width"}, "y": {"field": "y0", "type": "quantitative"}, "y2": {"field": "y1"}, "color": {"field": "trt", "type": "nominal", "scale": {"domain": ["POBA", "DCB", "BNS", "DES", "CS", "Spot"], "range": ["#ffdfe2", "#fdebc8", "#fffbcb", "#c6ece0", "#d5f1fc", "#e6c3e6"]}, "legend": null}}},
          {"transform": [{"fold": ["y0", "y1"], "as": ["k", "v"]}, {"aggregate": [{"op": "mean", "field": "v", "as": "mid"}], "groupby": ["trt", "lo", "hi"]}], "mark": "rule", "encoding": {"x": {"field": "lo", "type": "quantitative"}, "x2": {"field": "hi"}, "y": {"field": "mid", "type": "quantitative"}}},
          {"transform": [{"fold": ["y0", "y1"], "as": ["k", "v"]}, {"aggregate": [{"op": "mean", "field": "v", "as": "mid"}], "groupby": ["trt", "lo", "hi"]}, {"fold": ["lo", "hi"], "as": ["e", "ev"]}], "mark": {"type": "tick", "orient": "vertical"}, "encoding": {"x": {"field": "ev", "type": "quantitative"}, "y": {"field": "mid", "type": "quantitative"}}}
         ]},
        {"width": 23, "height": 334, "data": {"name": "leg"}, "transform": [{"filter": "datum.panel == 8"}],
         "encoding": {"x": {"value": "width"}, "y": {"field": "ord", "type": "ordinal", "scale": {"type": "point", "padding": 0.33, "align": 0.23}, "axis": null}},
         "layer": [
          {"mark": {"type": "point", "shape": "square", "filled": true, "size": 36, "stroke": "#555", "strokeWidth": 0.6, "opacity": 1}, "encoding": {"fill": {"field": "trt", "type": "nominal", "scale": {"domain": ["POBA", "DCB", "BNS", "DES", "CS", "Spot"], "range": ["#ff8080", "#f5a800", "#ffef00", "#00a878", "#4dc3ff", "#990099"]}, "legend": null}}},
          {"mark": {"type": "text", "angle": 90, "align": "left", "baseline": "middle", "dx": 5, "fontSize": 7, "font": "Liberation Sans", "fill": "#333"}, "encoding": {"text": {"field": "label", "type": "nominal"}}}
         ]},
        {"width": 81, "height": 335, "title": "8", "data": {"name": "bands"},
         "transform": [{"filter": "datum.panel == 8"}, {"stack": "n", "groupby": [], "sort": [{"field": "ord", "order": "ascending"}], "as": ["y0", "y1"], "offset": "normalize"}],
         "layer": [
          {"mark": "rect", "encoding": {"x": {"field": "rate", "type": "quantitative", "scale": {"domain": [0, 1], "nice": false, "zero": false}, "axis": {"orient": "top", "values": [0, 0.2, 0.4, 0.6, 0.8, 1], "tickCount": 6, "format": ".0%", "title": null, "labelOverlap": false}}, "x2": {"value": 0}, "y": {"field": "y0", "type": "quantitative", "scale": {"domain": [0, 1], "reverse": true, "nice": false, "zero": false}, "axis": null}, "y2": {"field": "y1"}, "fill": {"field": "trt", "type": "nominal", "scale": {"domain": ["POBA", "DCB", "BNS", "DES", "CS", "Spot"], "range": ["#ff8080", "#f5a800", "#ffef00", "#00a878", "#4dc3ff", "#990099"]}, "legend": null}}},
          {"mark": "rect", "encoding": {"x": {"field": "rate", "type": "quantitative"}, "x2": {"value": "width"}, "y": {"field": "y0", "type": "quantitative"}, "y2": {"field": "y1"}, "color": {"field": "trt", "type": "nominal", "scale": {"domain": ["POBA", "DCB", "BNS", "DES", "CS", "Spot"], "range": ["#ffdfe2", "#fdebc8", "#fffbcb", "#c6ece0", "#d5f1fc", "#e6c3e6"]}, "legend": null}}},
          {"transform": [{"fold": ["y0", "y1"], "as": ["k", "v"]}, {"aggregate": [{"op": "mean", "field": "v", "as": "mid"}], "groupby": ["trt", "lo", "hi"]}], "mark": "rule", "encoding": {"x": {"field": "lo", "type": "quantitative"}, "x2": {"field": "hi"}, "y": {"field": "mid", "type": "quantitative"}}},
          {"transform": [{"fold": ["y0", "y1"], "as": ["k", "v"]}, {"aggregate": [{"op": "mean", "field": "v", "as": "mid"}], "groupby": ["trt", "lo", "hi"]}, {"fold": ["lo", "hi"], "as": ["e", "ev"]}], "mark": {"type": "tick", "orient": "vertical"}, "encoding": {"x": {"field": "ev", "type": "quantitative"}, "y": {"field": "mid", "type": "quantitative"}}}
         ]},
        {"width": 21, "height": 334, "data": {"name": "leg"}, "transform": [{"filter": "datum.panel == 9"}],
         "encoding": {"x": {"value": "width"}, "y": {"field": "ord", "type": "ordinal", "scale": {"type": "point", "padding": 0.33, "align": 0.23}, "axis": null}},
         "layer": [
          {"mark": {"type": "point", "shape": "square", "filled": true, "size": 36, "stroke": "#555", "strokeWidth": 0.6, "opacity": 1}, "encoding": {"fill": {"field": "trt", "type": "nominal", "scale": {"domain": ["POBA", "DCB", "BNS", "DES", "CS", "Spot"], "range": ["#ff8080", "#f5a800", "#ffef00", "#00a878", "#4dc3ff", "#990099"]}, "legend": null}}},
          {"mark": {"type": "text", "angle": 90, "align": "left", "baseline": "middle", "dx": 5, "fontSize": 7, "font": "Liberation Sans", "fill": "#333"}, "encoding": {"text": {"field": "label", "type": "nominal"}}}
         ]},
        {"width": 81, "height": 331, "title": "9", "data": {"name": "bands"},
         "transform": [{"filter": "datum.panel == 9"}, {"stack": "n", "groupby": [], "sort": [{"field": "ord", "order": "ascending"}], "as": ["y0", "y1"], "offset": "normalize"}],
         "layer": [
          {"mark": "rect", "encoding": {"x": {"field": "rate", "type": "quantitative", "scale": {"domain": [0, 1], "nice": false, "zero": false}, "axis": {"orient": "top", "values": [0, 0.2, 0.4, 0.6, 0.8, 1], "tickCount": 6, "format": ".0%", "title": null, "labelOverlap": false}}, "x2": {"value": 0}, "y": {"field": "y0", "type": "quantitative", "scale": {"domain": [0, 1], "reverse": true, "nice": false, "zero": false}, "axis": null}, "y2": {"field": "y1"}, "fill": {"field": "trt", "type": "nominal", "scale": {"domain": ["POBA", "DCB", "BNS", "DES", "CS", "Spot"], "range": ["#ff8080", "#f5a800", "#ffef00", "#00a878", "#4dc3ff", "#990099"]}, "legend": null}}},
          {"mark": "rect", "encoding": {"x": {"field": "rate", "type": "quantitative"}, "x2": {"value": "width"}, "y": {"field": "y0", "type": "quantitative"}, "y2": {"field": "y1"}, "color": {"field": "trt", "type": "nominal", "scale": {"domain": ["POBA", "DCB", "BNS", "DES", "CS", "Spot"], "range": ["#ffdfe2", "#fdebc8", "#fffbcb", "#c6ece0", "#d5f1fc", "#e6c3e6"]}, "legend": null}}},
          {"transform": [{"fold": ["y0", "y1"], "as": ["k", "v"]}, {"aggregate": [{"op": "mean", "field": "v", "as": "mid"}], "groupby": ["trt", "lo", "hi"]}], "mark": "rule", "encoding": {"x": {"field": "lo", "type": "quantitative"}, "x2": {"field": "hi"}, "y": {"field": "mid", "type": "quantitative"}}},
          {"transform": [{"fold": ["y0", "y1"], "as": ["k", "v"]}, {"aggregate": [{"op": "mean", "field": "v", "as": "mid"}], "groupby": ["trt", "lo", "hi"]}, {"fold": ["lo", "hi"], "as": ["e", "ev"]}], "mark": {"type": "tick", "orient": "vertical"}, "encoding": {"x": {"field": "ev", "type": "quantitative"}, "y": {"field": "mid", "type": "quantitative"}}}
         ]},
        {"width": 19, "height": 334, "data": {"name": "leg"}, "transform": [{"filter": "datum.panel == 10"}],
         "encoding": {"x": {"value": "width"}, "y": {"field": "ord", "type": "ordinal", "scale": {"type": "point", "padding": 0.33, "align": 0.23}, "axis": null}},
         "layer": [
          {"mark": {"type": "point", "shape": "square", "filled": true, "size": 36, "stroke": "#555", "strokeWidth": 0.6, "opacity": 1}, "encoding": {"fill": {"field": "trt", "type": "nominal", "scale": {"domain": ["POBA", "DCB", "BNS", "DES", "CS", "Spot"], "range": ["#ff8080", "#f5a800", "#ffef00", "#00a878", "#4dc3ff", "#990099"]}, "legend": null}}},
          {"mark": {"type": "text", "angle": 90, "align": "left", "baseline": "middle", "dx": 5, "fontSize": 7, "font": "Liberation Sans", "fill": "#333"}, "encoding": {"text": {"field": "label", "type": "nominal"}}}
         ]},
        {"width": 81, "height": 329, "title": "10", "data": {"name": "bands"},
         "transform": [{"filter": "datum.panel == 10"}, {"stack": "n", "groupby": [], "sort": [{"field": "ord", "order": "ascending"}], "as": ["y0", "y1"], "offset": "normalize"}],
         "layer": [
          {"mark": "rect", "encoding": {"x": {"field": "rate", "type": "quantitative", "scale": {"domain": [0, 1], "nice": false, "zero": false}, "axis": {"orient": "top", "values": [0, 0.2, 0.4, 0.6, 0.8, 1], "tickCount": 6, "format": ".0%", "title": null, "labelOverlap": false}}, "x2": {"value": 0}, "y": {"field": "y0", "type": "quantitative", "scale": {"domain": [0, 1], "reverse": true, "nice": false, "zero": false}, "axis": null}, "y2": {"field": "y1"}, "fill": {"field": "trt", "type": "nominal", "scale": {"domain": ["POBA", "DCB", "BNS", "DES", "CS", "Spot"], "range": ["#ff8080", "#f5a800", "#ffef00", "#00a878", "#4dc3ff", "#990099"]}, "legend": null}}},
          {"mark": "rect", "encoding": {"x": {"field": "rate", "type": "quantitative"}, "x2": {"value": "width"}, "y": {"field": "y0", "type": "quantitative"}, "y2": {"field": "y1"}, "color": {"field": "trt", "type": "nominal", "scale": {"domain": ["POBA", "DCB", "BNS", "DES", "CS", "Spot"], "range": ["#ffdfe2", "#fdebc8", "#fffbcb", "#c6ece0", "#d5f1fc", "#e6c3e6"]}, "legend": null}}},
          {"transform": [{"fold": ["y0", "y1"], "as": ["k", "v"]}, {"aggregate": [{"op": "mean", "field": "v", "as": "mid"}], "groupby": ["trt", "lo", "hi"]}], "mark": "rule", "encoding": {"x": {"field": "lo", "type": "quantitative"}, "x2": {"field": "hi"}, "y": {"field": "mid", "type": "quantitative"}}},
          {"transform": [{"fold": ["y0", "y1"], "as": ["k", "v"]}, {"aggregate": [{"op": "mean", "field": "v", "as": "mid"}], "groupby": ["trt", "lo", "hi"]}, {"fold": ["lo", "hi"], "as": ["e", "ev"]}], "mark": {"type": "tick", "orient": "vertical"}, "encoding": {"x": {"field": "ev", "type": "quantitative"}, "y": {"field": "mid", "type": "quantitative"}}}
         ]},
        {"width": 13, "height": 334, "data": {"name": "leg"}, "transform": [{"filter": "datum.panel == 11"}],
         "encoding": {"x": {"value": "width"}, "y": {"field": "ord", "type": "ordinal", "scale": {"type": "point", "padding": 0.33, "align": 0.23}, "axis": null}},
         "layer": [
          {"mark": {"type": "point", "shape": "square", "filled": true, "size": 36, "stroke": "#555", "strokeWidth": 0.6, "opacity": 1}, "encoding": {"fill": {"field": "trt", "type": "nominal", "scale": {"domain": ["POBA", "DCB", "BNS", "DES", "CS", "Spot"], "range": ["#ff8080", "#f5a800", "#ffef00", "#00a878", "#4dc3ff", "#990099"]}, "legend": null}}},
          {"mark": {"type": "text", "angle": 90, "align": "left", "baseline": "middle", "dx": 5, "fontSize": 7, "font": "Liberation Sans", "fill": "#333"}, "encoding": {"text": {"field": "label", "type": "nominal"}}}
         ]},
        {"width": 81, "height": 329, "title": "11", "data": {"name": "bands"},
         "transform": [{"filter": "datum.panel == 11"}, {"stack": "n", "groupby": [], "sort": [{"field": "ord", "order": "ascending"}], "as": ["y0", "y1"], "offset": "normalize"}],
         "layer": [
          {"mark": "rect", "encoding": {"x": {"field": "rate", "type": "quantitative", "scale": {"domain": [0, 1], "nice": false, "zero": false}, "axis": {"orient": "top", "values": [0, 0.2, 0.4, 0.6, 0.8, 1], "tickCount": 6, "format": ".0%", "title": null, "labelOverlap": false}}, "x2": {"value": 0}, "y": {"field": "y0", "type": "quantitative", "scale": {"domain": [0, 1], "reverse": true, "nice": false, "zero": false}, "axis": null}, "y2": {"field": "y1"}, "fill": {"field": "trt", "type": "nominal", "scale": {"domain": ["POBA", "DCB", "BNS", "DES", "CS", "Spot"], "range": ["#ff8080", "#f5a800", "#ffef00", "#00a878", "#4dc3ff", "#990099"]}, "legend": null}}},
          {"mark": "rect", "encoding": {"x": {"field": "rate", "type": "quantitative"}, "x2": {"value": "width"}, "y": {"field": "y0", "type": "quantitative"}, "y2": {"field": "y1"}, "color": {"field": "trt", "type": "nominal", "scale": {"domain": ["POBA", "DCB", "BNS", "DES", "CS", "Spot"], "range": ["#ffdfe2", "#fdebc8", "#fffbcb", "#c6ece0", "#d5f1fc", "#e6c3e6"]}, "legend": null}}},
          {"transform": [{"fold": ["y0", "y1"], "as": ["k", "v"]}, {"aggregate": [{"op": "mean", "field": "v", "as": "mid"}], "groupby": ["trt", "lo", "hi"]}], "mark": "rule", "encoding": {"x": {"field": "lo", "type": "quantitative"}, "x2": {"field": "hi"}, "y": {"field": "mid", "type": "quantitative"}}},
          {"transform": [{"fold": ["y0", "y1"], "as": ["k", "v"]}, {"aggregate": [{"op": "mean", "field": "v", "as": "mid"}], "groupby": ["trt", "lo", "hi"]}, {"fold": ["lo", "hi"], "as": ["e", "ev"]}], "mark": {"type": "tick", "orient": "vertical"}, "encoding": {"x": {"field": "ev", "type": "quantitative"}, "y": {"field": "mid", "type": "quantitative"}}}
         ]}
      ]
    },
    {
      "width": 1260, "height": 52, "data": {"name": "cap"},
      "encoding": {"x": {"value": 0}, "y": {"field": "line", "type": "ordinal", "scale": {"type": "point", "padding": 0.5}, "axis": null}, "text": {"field": "txt", "type": "nominal"}},
      "layer": [
        {"transform": [{"filter": "datum.part == 'head'"}], "mark": {"type": "text", "align": "left", "baseline": "middle", "fontWeight": "bold", "fontSize": 18.7, "font": "Liberation Sans Narrow, DejaVu Sans Condensed, Liberation Sans", "fill": "#231f20"}},
        {"transform": [{"filter": "datum.part == 'body1'"}], "mark": {"type": "text", "align": "left", "baseline": "middle", "dx": 58, "fontSize": 18.7, "font": "Liberation Sans Narrow, DejaVu Sans Condensed, Liberation Sans", "fill": "#231f20"}},
        {"transform": [{"filter": "datum.part == 'body2'"}], "mark": {"type": "text", "align": "left", "baseline": "middle", "fontSize": 18.7, "font": "Liberation Sans Narrow, DejaVu Sans Condensed, Liberation Sans", "fill": "#231f20"}}
      ]
    }
  ],
  "spacing": 0
}
